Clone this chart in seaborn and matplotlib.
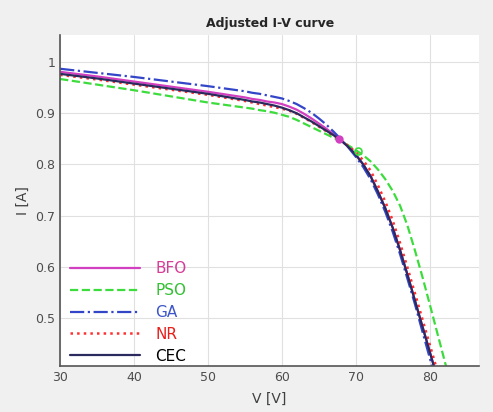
import numpy as np
import pandas as pd
import matplotlib
matplotlib.use("Agg")
import matplotlib.pyplot as plt
import seaborn as sns

# voltage points (V)
volts = [30, 35, 40, 45, 50, 55, 56, 57, 58, 59, 60, 61, 62, 63, 64, 65, 66, 67,
         68, 69, 70, 71, 72, 73, 74, 75, 76, 77, 78, 79, 80, 81, 82, 83]

# current (A) for each method
bfo = [0.981, 0.972, 0.962, 0.952, 0.942, 0.931, 0.928, 0.926, 0.923, 0.921, 0.918,
       0.913, 0.907, 0.899, 0.890, 0.880, 0.870, 0.859, 0.847, 0.834, 0.819, 0.800,
       0.777, 0.747, 0.714, 0.676, 0.632, 0.584, 0.534, 0.484, 0.434, 0.384, 0.334,
       0.284]
pso = [0.967, 0.956, 0.945, 0.933, 0.921, 0.911, 0.909, 0.906, 0.904, 0.901, 0.897,
       0.893, 0.887, 0.880, 0.873, 0.866, 0.859, 0.852, 0.845, 0.837, 0.828, 0.818,
       0.806, 0.790, 0.771, 0.748, 0.719, 0.680, 0.632, 0.581, 0.527, 0.472, 0.417,
       0.362]
ga = [0.987, 0.979, 0.971, 0.962, 0.953, 0.943, 0.940, 0.938, 0.935, 0.932, 0.929,
      0.924, 0.918, 0.910, 0.901, 0.890, 0.878, 0.864, 0.849, 0.833, 0.815, 0.795,
      0.771, 0.741, 0.707, 0.668, 0.624, 0.576, 0.527, 0.474, 0.422, 0.370, 0.318,
      0.266]
nr = [0.975, 0.966, 0.956, 0.946, 0.936, 0.924, 0.921, 0.918, 0.915, 0.912, 0.909,
      0.905, 0.899, 0.891, 0.883, 0.874, 0.865, 0.856, 0.847, 0.836, 0.824, 0.808,
      0.788, 0.759, 0.727, 0.690, 0.646, 0.598, 0.548, 0.498, 0.448, 0.398, 0.348,
      0.298]
cec = [0.977, 0.968, 0.958, 0.948, 0.938, 0.926, 0.923, 0.921, 0.918, 0.915, 0.911,
       0.906, 0.900, 0.892, 0.884, 0.875, 0.866, 0.857, 0.847, 0.834, 0.819, 0.800,
       0.777, 0.747, 0.714, 0.676, 0.632, 0.584, 0.534, 0.484, 0.434, 0.384, 0.334,
       0.284]

methods = ["BFO", "PSO", "GA", "NR", "CEC"]
line_colors = ["#d23fc0", "#3ddc3d", "#3346c8", "#ff3030", "#2a2a5e"]
text_colors = ["#d63c98", "#33c033", "#3d55c8", "#e8201c", "#000000"]
dashes = ["-", "--", "-.", ":", "-"]

# maximum power points
mpp_v = [67.7, 70.3]
mpp_i = [0.850, 0.826]

yticks = [0.5, 0.6, 0.7, 0.8, 0.9, 1.0]
ytick_labels = ["0.5", "0.6", "0.7", "0.8", "0.9", "1"]
xticks = [30, 40, 50, 60, 70, 80]

df = pd.DataFrame({"V": volts, "BFO": bfo, "PSO": pso, "GA": ga, "NR": nr, "CEC": cec})

sns.set_style("whitegrid")
plt.rcParams["font.family"] = ["DejaVu Sans"]

fig = plt.figure(figsize=(4.93, 4.12), dpi=100, facecolor="#f0f0f0")
ax = fig.add_axes([0.122, 0.112, 0.850, 0.803])
ax.set_facecolor("white")

for m, c, ls in zip(methods, line_colors, dashes):
    lw = 1.6 if m != "NR" else 1.8
    sns.lineplot(data=df, x="V", y=m, ax=ax, color=c, linestyle=ls, linewidth=lw,
                 label=m, sort=False)

ax.plot(mpp_v[0], mpp_i[0], marker="o", color="#d23fc0", markersize=5)
ax.plot(mpp_v[1], mpp_i[1], marker="o", markerfacecolor="none",
        markeredgecolor="#3ddc3d", markersize=5, markeredgewidth=1.2)

ax.set_xlim(30, 86.7)
ax.set_ylim(0.406, 1.053)
ax.set_xticks(xticks)
ax.set_yticks(yticks)
ax.set_yticklabels(ytick_labels)
ax.tick_params(direction="in", length=3, labelsize=9, colors="#4d4d4d",
               width=0.8)
ax.grid(True, color="#e0e0e0", linewidth=0.8)

for s in ["top", "right"]:
    ax.spines[s].set_visible(False)
for s in ["left", "bottom"]:
    ax.spines[s].set_color("#555555")
    ax.spines[s].set_linewidth(1.2)

ax.set_title("Adjusted I-V curve", fontsize=9, fontweight="bold", pad=6)
ax.set_xlabel("V [V]", fontsize=10, color="#404040", labelpad=6)
ax.set_ylabel("I [A]", fontsize=10, color="#404040", labelpad=4)

leg = ax.legend(loc="lower left", frameon=False, fontsize=11, handlelength=4.6,
                handletextpad=1.0, labelspacing=0.45, borderaxespad=0.0,
                bbox_to_anchor=(0.008, -0.012))
for t, c in zip(leg.get_texts(), text_colors):
    t.set_color(c)

fig.savefig("out.png", dpi=100, facecolor=fig.get_facecolor())
